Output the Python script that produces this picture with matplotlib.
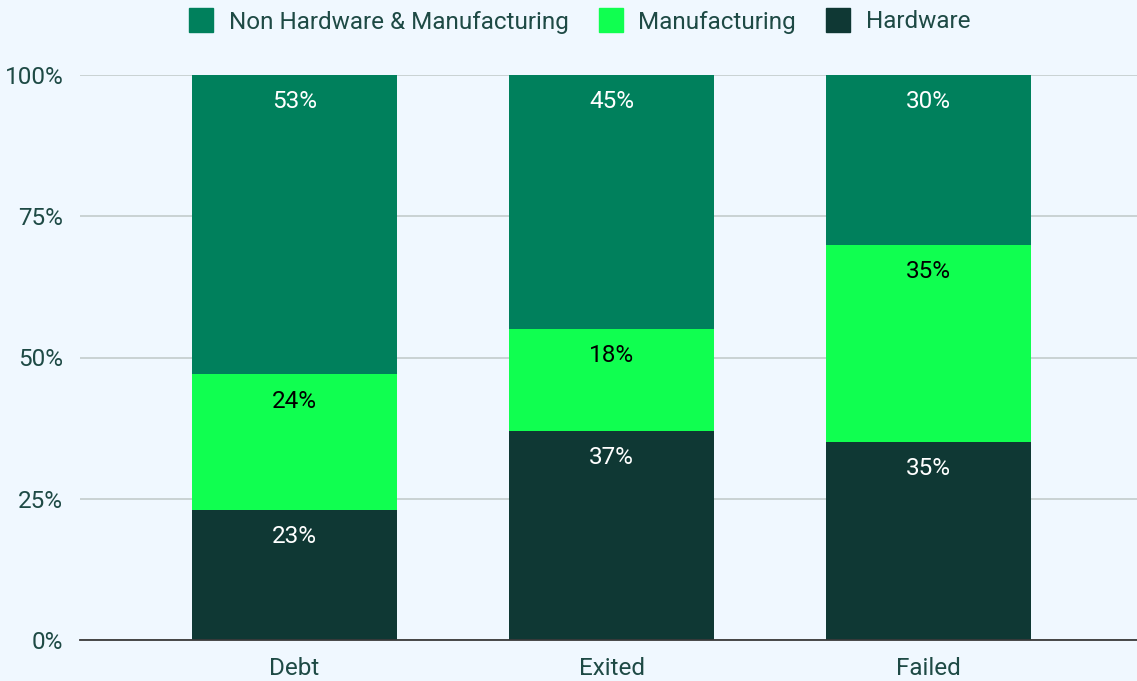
import matplotlib.pyplot as plt
from matplotlib.lines import Line2D
import numpy as np

plt.rcParams['font.family'] = ['Roboto', 'DejaVu Sans']

# stacked shares per outcome
categories = ["Debt", "Exited", "Failed"]
hardware = [23, 37, 35]
manufacturing = [24, 18, 35]
non_hw_mfg = [53, 45, 30]

series_names = ["Non Hardware & Manufacturing", "Manufacturing", "Hardware"]
col_non = "#00805c"
col_mfg = "#10ff50"
col_hw = "#0f3834"
txt_col = "#1e4a45"
bg = "#f0f8ff"
fs = 17.5

fig = plt.figure(figsize=(11.37, 6.81), dpi=100, facecolor=bg)
ax = fig.add_axes([80 / 1137, 41 / 681, 1057 / 1137, 565 / 681], facecolor=bg)

x = np.arange(len(categories))
w = 0.647
hw = np.array(hardware)
mf = np.array(manufacturing)
nn = np.array(non_hw_mfg)

ax.bar(x, hw, w, color=col_hw, zorder=3)
ax.bar(x, mf, w, bottom=hw, color=col_mfg, zorder=3)
ax.bar(x, nn, w, bottom=hw + mf, color=col_non, zorder=3)

# value labels just below the top of each segment
off = 4.7
for i in range(len(categories)):
    ax.text(x[i], hw[i] - off, f"{hw[i]}%", ha="center", va="center",
            color="white", fontsize=fs, zorder=4)
    ax.text(x[i], hw[i] + mf[i] - off, f"{mf[i]}%", ha="center", va="center",
            color="black", fontsize=fs, zorder=4)
    ax.text(x[i], hw[i] + mf[i] + nn[i] - off, f"{nn[i]}%", ha="center",
            va="center", color="white", fontsize=fs, zorder=4)

ax.set_ylim(0, 100)
ax.set_xlim(-0.677, 2.658)
ax.set_yticks([0, 25, 50, 75, 100])
ax.set_yticklabels(["0%", "25%", "50%", "75%", "100%"])
ax.set_xticks(x)
ax.set_xticklabels(categories)
ax.tick_params(axis="both", length=0, labelsize=fs, labelcolor=txt_col)
ax.tick_params(axis="y", pad=12)
ax.tick_params(axis="x", pad=12)
ax.yaxis.grid(True, color="#c3cccc", linewidth=1.2, zorder=0)
for s in ["top", "right", "left"]:
    ax.spines[s].set_visible(False)
ax.spines["bottom"].set_color("#3a3a3a")
ax.spines["bottom"].set_linewidth(1.3)
ax.spines["bottom"].set_zorder(5)

handles = [Line2D([], [], marker="s", linestyle="none", markersize=17,
                  markerfacecolor=c, markeredgecolor=c)
           for c in [col_non, col_mfg, col_hw]]
leg = fig.legend(handles, series_names, loc="center", bbox_to_anchor=(576 / 1137, 1 - 22 / 681),
                 ncol=3, frameon=False, fontsize=fs, handletextpad=0.32,
                 columnspacing=0.95, handlelength=1.6)
for t in leg.get_texts():
    t.set_color(txt_col)

fig.savefig("out.png", dpi=100, facecolor=bg)
